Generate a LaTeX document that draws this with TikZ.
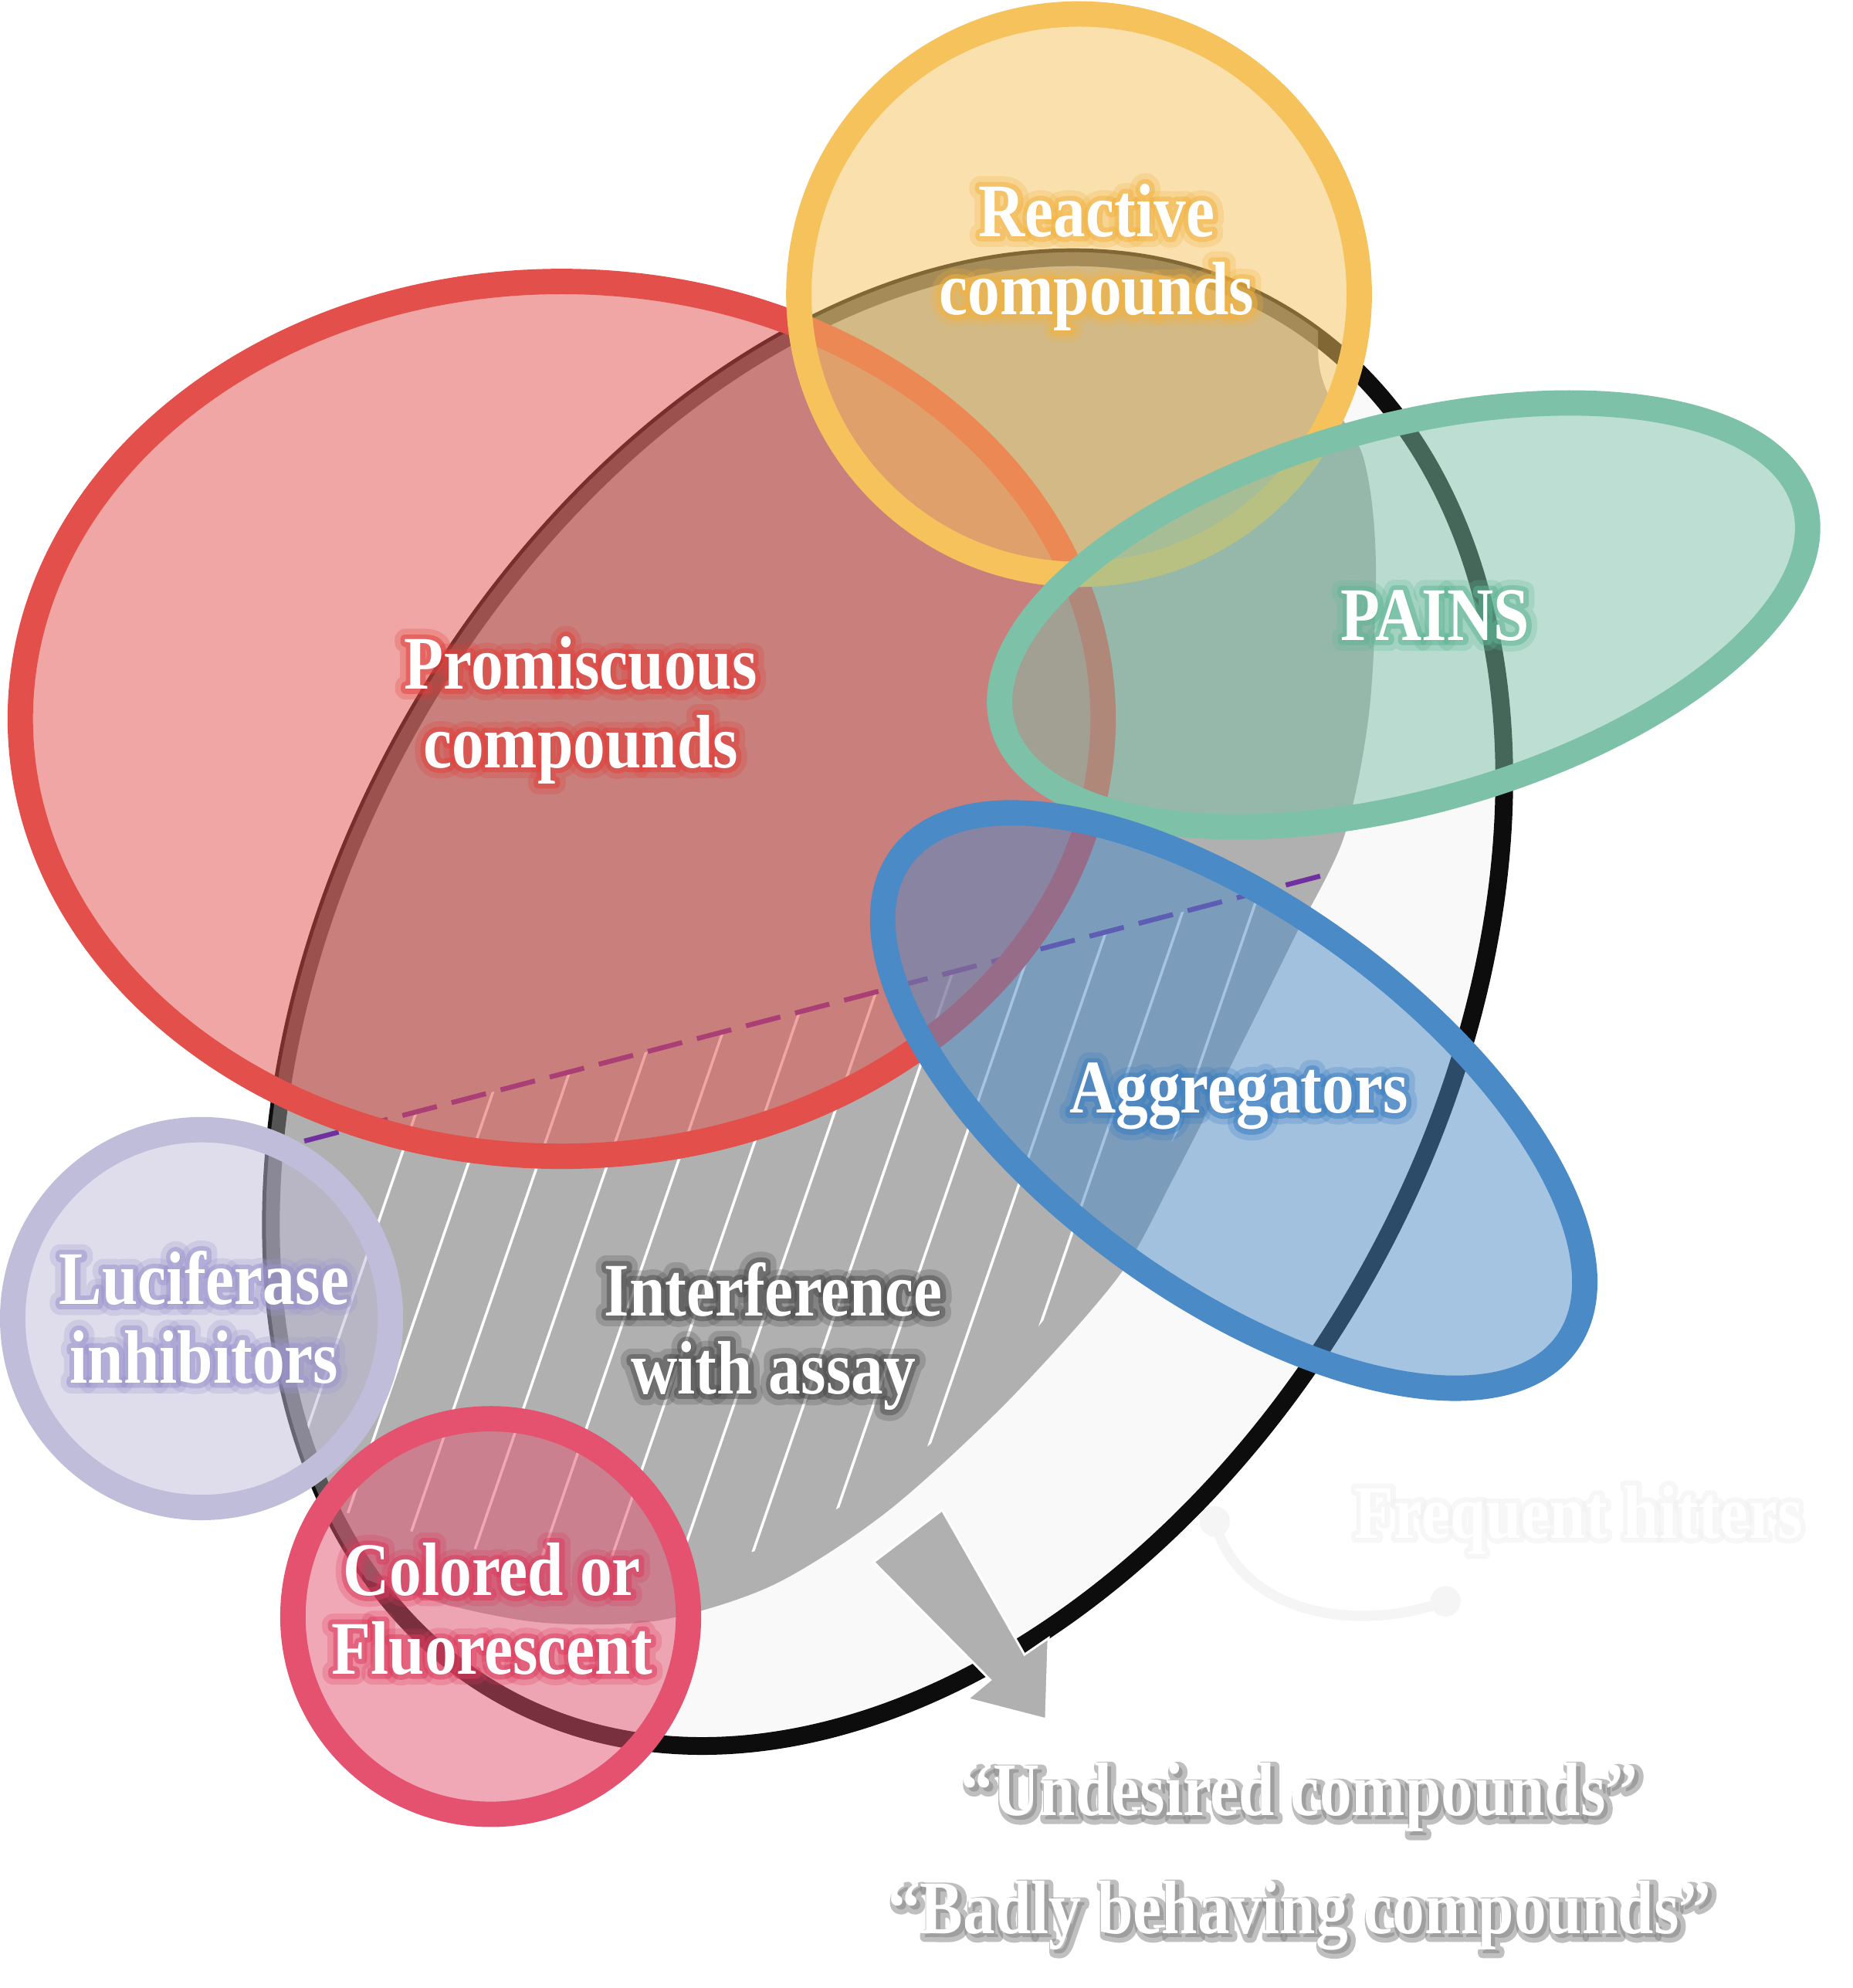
\documentclass[tikz,border=0pt]{standalone}
\usepackage{fontspec}
\setmainfont{Liberation Serif}
\newfontfamily\labelfont{Liberation Serif}[FakeStretch=0.85]
\newfontfamily\glowfont{Liberation Serif}[FakeStretch=0.85,FakeBold=13]
\newfontfamily\halofont{Liberation Serif}[FakeStretch=0.85,FakeBold=28]
\usetikzlibrary{calc}

\definecolor{hitfill}{HTML}{F9F9F9}
\definecolor{assaygray}{HTML}{828282}
\definecolor{arrowgray}{HTML}{B0B0B0}
\definecolor{framecol}{HTML}{0D0D0D}
\definecolor{promred}{HTML}{E34F4A}
\definecolor{reactyellow}{HTML}{F6C25C}
\definecolor{painsgreen}{HTML}{7CC1A8}
\definecolor{aggblue}{HTML}{4A8AC6}
\definecolor{lucilav}{HTML}{C0BDDB}
\definecolor{colpink}{HTML}{E4526F}
\definecolor{dashpurple}{HTML}{7030A0}
\definecolor{reactglow}{HTML}{F2B240}
\definecolor{promglow}{HTML}{E0403C}
\definecolor{painsglow}{HTML}{5EB595}
\definecolor{aggglow}{HTML}{3A7DC0}
\definecolor{lucglow}{HTML}{9A94CC}
\definecolor{colglow}{HTML}{DC3A5C}
\definecolor{shadowgray}{HTML}{4A4A4A}

\begin{document}
\begin{tikzpicture}[
  setshape/.style={line width=2mm,draw=#1,fill=#1,fill opacity=0.5},
  hatch/.style={white,line width=0.6pt},
  lbl/.style={align=center,inner sep=0pt,text=white,font=\labelfont\bfseries\fontsize{17}{17.6}\selectfont},
  glow/.style={lbl,text=#1,opacity=0.5,line join=round,font=\glowfont\bfseries\fontsize{17}{17.6}\selectfont},
  halo/.style={lbl,text=#1,opacity=0.25,line join=round,font=\halofont\bfseries\fontsize{17}{17.6}\selectfont}
]
  \useasboundingbox[fill=white] (0,0) rectangle (14.61,-15.68);

  % frequent hitters set
  \fill[hitfill,rotate around={61.1:(7.00,-7.90)}] (7.00,-7.90) ellipse [x radius=6.26,y radius=4.35];
  \draw[framecol,line width=1.4mm,rotate around={61.1:(7.00,-7.90)}] (7.00,-7.90) ellipse [x radius=6.26,y radius=4.35];

  % interference with assay, laid over the rim
  \begin{scope}
    \clip[rotate around={61.1:(7.00,-7.90)}] (7.00,-7.90) ellipse [x radius=6.30,y radius=4.39];
    \fill[assaygray,fill opacity=0.61] plot[smooth] coordinates {(10.50,-1.20) (10.40,-2.85) (10.75,-3.60) (10.85,-4.40)
      (10.80,-5.60) (10.60,-6.60) (10.20,-7.41) (9.80,-8.22) (9.25,-9.30) (8.82,-10.07) (7.95,-11.05)
      (7.00,-11.92) (6.10,-12.50) (5.20,-12.78) (4.30,-12.80) (3.50,-12.65) (2.60,-12.35) (2.10,-12.05)
      (1.50,-11.50)} -- (0.5,-11.5) -- (0.5,-0.5) -- (10.5,-0.5) -- cycle;
    \clip[rotate around={61.1:(7.00,-7.90)}] (7.00,-7.90) ellipse [x radius=6.19,y radius=4.28];
    \clip (1.5,-9.235) -- (10.45,-6.90) -- plot[smooth] coordinates {(10.45,-6.95) (10.05,-7.55)
      (9.60,-8.40) (9.15,-9.15) (8.60,-9.95) (7.55,-11.20) (6.74,-11.81) (6.06,-12.20) (5.50,-12.30)
      (4.94,-12.31) (3.88,-12.24) (3.32,-12.10) (2.50,-11.85) (1.80,-11.50)} -- (1.5,-11.5) -- cycle;
    \foreach \k in {0,...,14}
      \draw[hatch] ({2.86+0.55*\k},-10) ++(251:4.5) -- ++(71:10);
  \end{scope}

  \coordinate (dash-a) at (2.40,-9.00);
  \coordinate (dash-b) at (10.45,-6.90);
  \draw[dashpurple,line width=1.1pt,dash pattern=on 0.28cm off 0.12cm] (dash-a) -- (dash-b);

  % arrow out of the set
  \filldraw[fill=arrowgray,draw=white,line width=0.5pt] (7.43,-11.91) -- (8.08,-13.05) -- (8.27,-12.92)
    -- (8.25,-13.56) -- (7.63,-13.40) -- (7.81,-13.25) -- (6.89,-12.32) -- cycle;

  % the classes
  \filldraw[setshape=promred] (4.43,-5.67) ellipse [x radius=4.27,y radius=3.45];
  \filldraw[setshape=reactyellow] (8.51,-2.32) circle (2.21);
  \filldraw[setshape=painsgreen,rotate around={15.4:(11.07,-4.85)}] (11.07,-4.85) ellipse [x radius=3.28,y radius=1.48];
  \filldraw[setshape=aggblue,rotate around={-36.2:(9.73,-8.68)}] (9.73,-8.68) ellipse [x radius=3.25,y radius=1.50];
  \filldraw[setshape=lucilav] (1.59,-10.40) circle (1.49);
  \filldraw[setshape=colpink] (3.87,-12.75) circle (1.56);

  % faint pointer to the set name
  \coordinate (fh-a) at (9.58,-12.00);
  \coordinate (fh-b) at (11.40,-12.63);
  \draw[black!4,line width=0.8mm] (fh-a) to[out=-75,in=200] (fh-b);
  \fill[black!4] (fh-a) circle (0.12) (fh-b) circle (0.12);

  \foreach \nm/\pos/\gc/\txt in {
      reactive/{8.65,-2.03}/reactglow/{Reactive\\compounds},
      promiscuous/{4.58,-5.60}/promglow/{Promiscuous\\compounds},
      luciferase/{1.61,-10.39}/lucglow/{Luciferase\\inhibitors},
      interference/{6.10,-10.54}/shadowgray/{Interference\\with assay},
      colored/{3.88,-12.69}/colglow/{Colored or\\Fluorescent}}
  {
    \node[halo=\gc] (\nm-halo) at (\pos) {\txt};
    \node[glow=\gc] (\nm-glow) at (\pos) {\txt};
    \node[lbl] (\nm) at (\pos) {\txt};
  }
  \foreach \nm/\pos/\gc/\txt in {
      pains/{11.32,-5.05}/painsglow/PAINS,
      aggregators/{9.77,-8.78}/aggglow/Aggregators}
  {
    \node[halo=\gc,anchor=base] (\nm-halo) at (\pos) {\txt};
    \node[glow=\gc,anchor=base] (\nm-glow) at (\pos) {\txt};
    \node[lbl,anchor=base] (\nm) at (\pos) {\txt};
  }
  \node[glow=black!6,anchor=base] (frequent-glow) at (12.45,-12.13) {Frequent hitters};
  \node[lbl,anchor=base] (frequent) at (12.45,-12.13) {Frequent hitters};
  \node[glow=black!50,anchor=base,xshift=0.8pt,yshift=-0.8pt] (undesired-glow) at (10.25,-14.32) {“Undesired compounds”};
  \node[lbl,anchor=base] (undesired) at (10.25,-14.32) {“Undesired compounds”};
  \node[glow=black!50,anchor=base,xshift=0.8pt,yshift=-0.8pt] (badly-glow) at (10.25,-15.25) {“Badly behaving compounds”};
  \node[lbl,anchor=base] (badly) at (10.25,-15.25) {“Badly behaving compounds”};
\end{tikzpicture}
\end{document}
